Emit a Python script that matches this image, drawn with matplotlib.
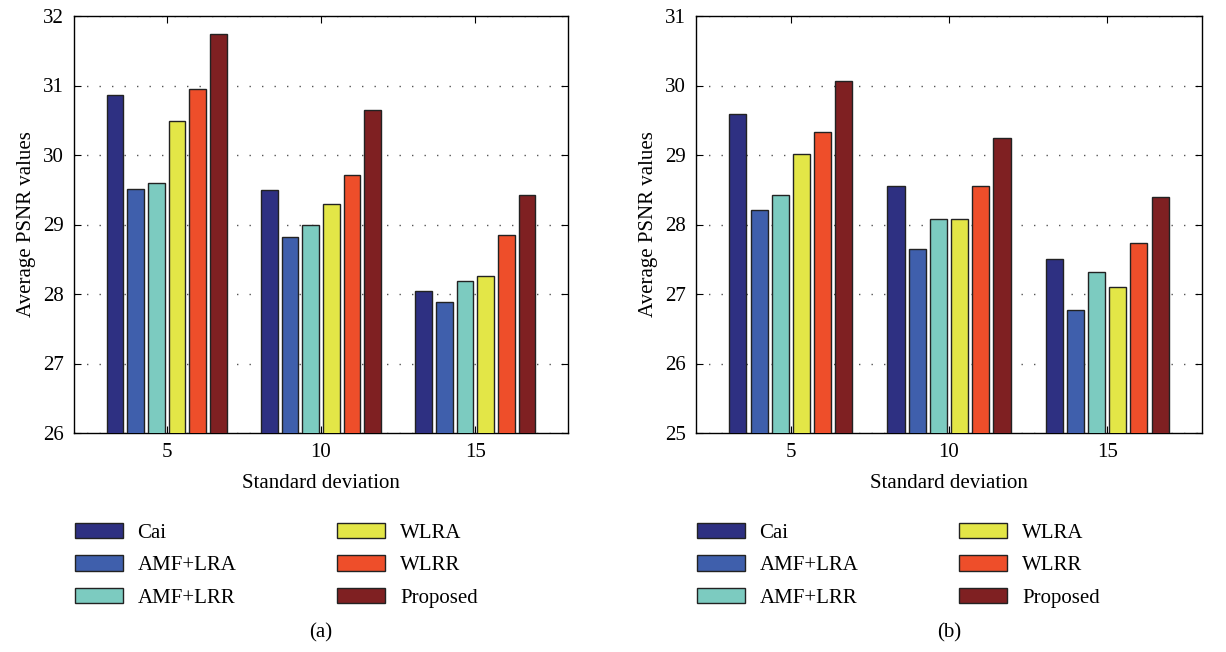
import matplotlib
matplotlib.use('Agg')
import matplotlib.pyplot as plt
import numpy as np

plt.rcParams['font.family'] = ['Liberation Serif', 'DejaVu Serif']

methods = ['Cai', 'AMF+LRA', 'AMF+LRR', 'WLRA', 'WLRR', 'Proposed']
colors = ['#2e3082', '#3f5fac', '#7ccbc0', '#e3e647', '#ee4e2a', '#7f2022']
std_devs = ['5', '10', '15']

# PSNR per method, columns are std dev 5, 10, 15
psnr_a = [
    [30.87, 29.50, 28.04],
    [29.51, 28.82, 27.88],
    [29.60, 28.99, 28.18],
    [30.49, 29.30, 28.26],
    [30.95, 29.71, 28.85],
    [31.74, 30.65, 29.43],
]
psnr_b = [
    [29.59, 28.56, 27.50],
    [28.21, 27.65, 26.77],
    [28.43, 28.08, 27.32],
    [29.01, 28.08, 27.10],
    [29.33, 28.56, 27.74],
    [30.06, 29.25, 28.40],
]

fig = plt.figure(figsize=(12.26, 6.52), dpi=100)
ax_a = fig.add_axes([74/1226, 1 - 433/652, 494/1226, 417/652])
ax_b = fig.add_axes([696/1226, 1 - 433/652, 506/1226, 417/652])

fs = 15


def draw_panel(ax, data, ylim, caption, leg_x):
    x = np.arange(1, len(std_devs) + 1)
    step = 0.134
    width = 0.108
    handles = []
    for i, (name, vals) in enumerate(zip(methods, data)):
        b = ax.bar(x + (i - 2.5) * step, vals, width, bottom=0,
                   color=colors[i], edgecolor='#222222', linewidth=1.0, label=name, zorder=3)
        handles.append(b)
    ax.set_xlim(0.4, 3.6)
    ax.set_ylim(*ylim)
    ax.set_xticks(x)
    ax.set_xticklabels(std_devs)
    ax.set_yticks(range(ylim[0], ylim[1] + 1))
    ax.tick_params(direction='in', top=True, right=True, labelsize=fs, length=5, pad=7)
    ax.yaxis.grid(True, linestyle=(0, (1, 8)), color='#555555', linewidth=1.0, zorder=0)
    for s in ax.spines.values():
        s.set_linewidth(1.0)
    ax.set_xlabel('Standard deviation', fontsize=fs, labelpad=9)
    ax.set_ylabel('Average PSNR values', fontsize=fs, labelpad=5)
    fig.legend(handles=handles, loc='upper left', bbox_to_anchor=(leg_x, 1 - 523/652),
               ncol=2, frameon=False, fontsize=fs, handlelength=2.3, handleheight=0.75,
               handletextpad=0.7, columnspacing=4.85, labelspacing=0.6, borderaxespad=0,
               borderpad=0)
    pos = ax.get_position()
    fig.text((pos.x0 + pos.x1) / 2, 1 - 633/652, caption, ha='center', va='center', fontsize=fs)


draw_panel(ax_a, psnr_a, (26, 32), '(a)', 75/1226)
draw_panel(ax_b, psnr_b, (25, 31), '(b)', 697/1226)

fig.savefig('out.png', dpi=100)
